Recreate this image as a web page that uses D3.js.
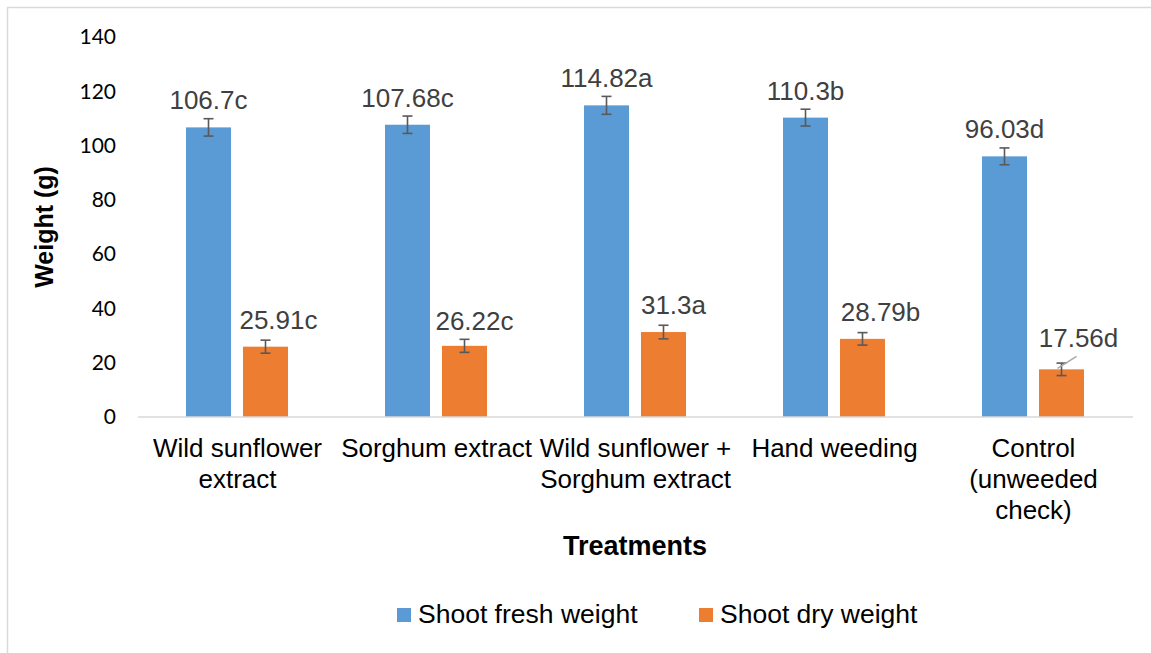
<!DOCTYPE html>
<html>
<head>
<meta charset="utf-8">
<script src="https://cdn.jsdelivr.net/npm/d3@7"></script>
<style>
  body { margin: 0; background: #fff; }
</style>
</head>
<body>
<div id="canvas"></div>
<script>
"use strict"

// chart data
let treatments = ["Wild sunflower extract", "Sorghum extract", "Wild sunflower + Sorghum extract", "Hand weeding", "Control (unweeded check)"]
let treatmentLines = [["Wild sunflower", "extract"], ["Sorghum extract"], ["Wild sunflower +", "Sorghum extract"], ["Hand weeding"], ["Control", "(unweeded", "check)"]]
let seriesNames = ["Shoot fresh weight", "Shoot dry weight"]
let freshWeight = [106.7, 107.68, 114.82, 110.3, 96.03]
let dryWeight = [25.91, 26.22, 31.3, 28.79, 17.56]
let freshError = [3.2, 3.2, 3.3, 3.1, 3.1]
let dryError = [2.4, 2.4, 2.5, 2.3, 2.3]
let freshLetters = ["c", "c", "a", "b", "d"]
let dryLetters = ["c", "c", "a", "b", "d"]
let yTicks = [0, 20, 40, 60, 80, 100, 120, 140]

let colors = ["#5b9bd5", "#ed7d31"]

// the dry weight labels were nudged to the right in the original
let dryLabelDx = [13, 10, 10, 18, 17]
let dryLabelDy = [0, 2, 0, 0, -4]

let drawing = d3.select("#canvas")
    .append("svg")
    .attr("width", 1151)
    .attr("height", 653)

// outer frame (cut off at right and bottom)
drawing.append("rect")
    .attr("x", 7.5)
    .attr("y", 7.5)
    .attr("width", 1300)
    .attr("height", 800)
    .attr("fill", "none")
    .attr("stroke", "#d9d9d9")
    .attr("stroke-width", 1.5)

let x0 = d3.scaleBand()
    .domain(treatments)
    .range([138, 1133])

let x1 = d3.scaleBand()
    .domain(seriesNames)
    .range([48, 150])
    .paddingInner(12 / 57)

let y = d3.scaleLinear()
    .domain([0, 140])
    .range([417, 37])

// y axis labels only
let yAxis = drawing.append("g")
    .attr("transform", "translate(116,0)")
    .call(d3.axisLeft(y).tickValues(yTicks).tickSize(0).tickPadding(0))
yAxis.select(".domain").remove()
yAxis.selectAll("text")
    .attr("font-family", "Lato, sans-serif")
    .attr("font-size", 21)
    .attr("fill", "#000")

let rows = treatments.map((t, i) => ({
    name: t,
    lines: treatmentLines[i],
    values: [
        { series: seriesNames[0], value: freshWeight[i], err: freshError[i], label: freshWeight[i] + freshLetters[i], dx: 0, dy: 0 },
        { series: seriesNames[1], value: dryWeight[i], err: dryError[i], label: dryWeight[i] + dryLetters[i], dx: dryLabelDx[i], dy: dryLabelDy[i] }
    ]
}))

let groups = drawing.append("g")
    .selectAll("g")
    .data(rows)
    .join("g")
    .attr("transform", d => "translate(" + x0(d.name) + ",0)")

// bars
groups.selectAll("rect")
    .data(d => d.values)
    .join("rect")
    .attr("x", d => x1(d.series))
    .attr("y", d => y(d.value))
    .attr("width", x1.bandwidth())
    .attr("height", d => y(0) - y(d.value))
    .attr("fill", d => colors[seriesNames.indexOf(d.series)])

// error bars
let errs = groups.selectAll("g.err")
    .data(d => d.values)
    .join("g")
    .attr("class", "err")
    .attr("stroke", "#595959")
    .attr("stroke-width", 1.6)
errs.append("line")
    .attr("x1", d => x1(d.series) + x1.bandwidth() / 2)
    .attr("x2", d => x1(d.series) + x1.bandwidth() / 2)
    .attr("y1", d => y(d.value + d.err))
    .attr("y2", d => y(d.value - d.err))
errs.selectAll("line.cap")
    .data(d => [{ d: d, v: d.value + d.err }, { d: d, v: d.value - d.err }])
    .join("line")
    .attr("class", "cap")
    .attr("x1", c => x1(c.d.series) + x1.bandwidth() / 2 - 5)
    .attr("x2", c => x1(c.d.series) + x1.bandwidth() / 2 + 5)
    .attr("y1", c => y(c.v))
    .attr("y2", c => y(c.v))

// value labels
groups.selectAll("text.val")
    .data(d => d.values)
    .join("text")
    .attr("class", "val")
    .attr("x", d => x1(d.series) + x1.bandwidth() / 2 + d.dx)
    .attr("y", d => y(d.value) - 18 + d.dy)
    .attr("text-anchor", "middle")
    .attr("font-family", "'Liberation Sans', Arial, sans-serif")
    .attr("font-size", 26)
    .attr("fill", "#404040")
    .text(d => d.label)

// leader line for the control dry label
let lastDry = rows[4].values[1]
drawing.append("line")
    .attr("x1", x0(rows[4].name) + x1(lastDry.series) + x1.bandwidth() / 2 - 4)
    .attr("y1", y(lastDry.value) - 1)
    .attr("x2", x0(rows[4].name) + x1(lastDry.series) + x1.bandwidth() / 2 + 15)
    .attr("y2", y(lastDry.value) - 13)
    .attr("stroke", "#a6a6a6")
    .attr("stroke-width", 1.3)

// x axis line
drawing.append("line")
    .attr("x1", 138)
    .attr("x2", 1133)
    .attr("y1", y(0))
    .attr("y2", y(0))
    .attr("stroke", "#d9d9d9")
    .attr("stroke-width", 1.5)

// category labels
let catText = drawing.append("g")
    .selectAll("text")
    .data(rows)
    .join("text")
    .attr("x", d => x0(d.name) + x0.bandwidth() / 2)
    .attr("y", 457)
    .attr("text-anchor", "middle")
    .attr("font-family", "'Liberation Sans', Arial, sans-serif")
    .attr("font-size", 26)
    .attr("fill", "#000")
catText.selectAll("tspan")
    .data(d => d.lines.map(l => ({ l: l, x: x0(d.name) + x0.bandwidth() / 2 })))
    .join("tspan")
    .attr("x", t => t.x)
    .attr("dy", (t, i) => i === 0 ? 0 : 31)
    .text(t => t.l)

// axis titles
drawing.append("text")
    .attr("x", 635)
    .attr("y", 555)
    .attr("text-anchor", "middle")
    .attr("font-family", "'Liberation Sans', Arial, sans-serif")
    .attr("font-weight", "bold")
    .attr("font-size", 27)
    .text("Treatments")

drawing.append("text")
    .attr("transform", "translate(53,227) rotate(-90)")
    .attr("text-anchor", "middle")
    .attr("font-family", "'Liberation Sans', Arial, sans-serif")
    .attr("font-weight", "bold")
    .attr("font-size", 25)
    .text("Weight (g)")

// legend
let legendX = [397, 699]
let legend = drawing.append("g")
    .selectAll("g")
    .data(seriesNames)
    .join("g")
    .attr("transform", (d, i) => "translate(" + legendX[i] + ",608)")
legend.append("rect")
    .attr("width", 14)
    .attr("height", 14)
    .attr("fill", (d, i) => colors[i])
legend.append("text")
    .attr("x", 21)
    .attr("y", 15)
    .attr("font-family", "'Liberation Sans', Arial, sans-serif")
    .attr("font-size", 26.5)
    .attr("fill", "#000")
    .text(d => d)
</script>
</body>
</html>
